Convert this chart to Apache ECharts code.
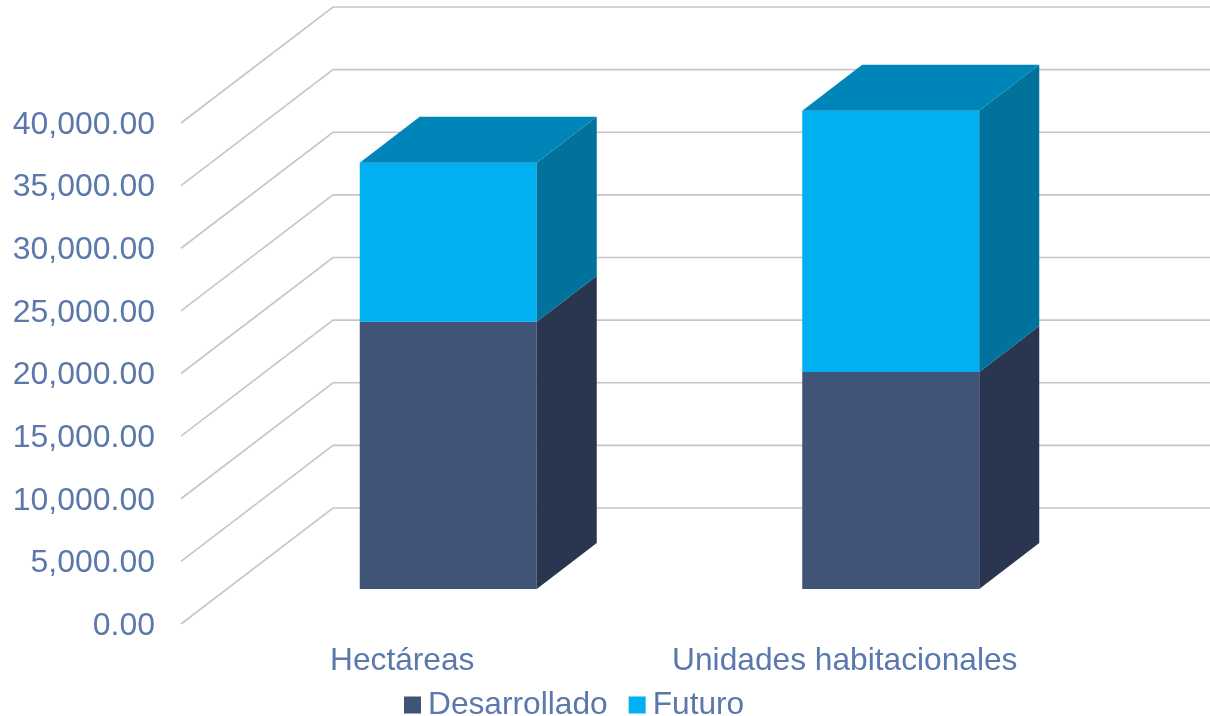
<!DOCTYPE html>
<html>
<head>
<meta charset="utf-8">
<style>html,body{margin:0;padding:0;background:#fff}#c{width:1210px;height:716px}</style>
<script src="https://cdn.jsdelivr.net/npm/echarts@6/dist/echarts.min.js"></script>
</head>
<body>
<div id="c"></div>
<script>
const categories = ['Hectáreas', 'Unidades habitacionales'];
const desarrollado = [21340, 17330];
const futuro = [12700, 20860];
const ticks = [0, 5000, 10000, 15000, 20000, 25000, 30000, 35000, 40000];

const wallDepth = [152, -116];
const barNear = [46, -35];
const barDepth = [60, -46];
const textColor = '#5a78ac';
const gridColor = '#c6c6ca';
const fontFamily = '"Liberation Sans", Arial, sans-serif';

function shift(p, d) { return [p[0] + d[0], p[1] + d[1]]; }
function poly(points, fill) {
  return { type: 'polygon', shape: { points: points }, style: { fill: fill } };
}

function wallItem(params, api) {
  const cs = params.coordSys;
  const y = api.coord([0, api.value(0)])[1];
  const a = [cs.x, y];
  const b = shift(a, wallDepth);
  return {
    type: 'polyline',
    shape: { points: [a, b, [b[0] + cs.width + 10, b[1]]] },
    style: { fill: 'none', stroke: gridColor, lineWidth: 1.6 }
  };
}

function barItem(front, side, top, halfWidthBands, showTop) {
  return function (params, api) {
    const i = api.value(0);
    const lo = api.value(1);
    const hi = api.value(2);
    const half = api.size([1, 0])[0] * halfWidthBands;
    const bl = shift(api.coord([i, lo]), barNear);
    const tl = shift(api.coord([i, hi]), barNear);
    const p1 = [bl[0] - half, bl[1]];
    const p2 = [bl[0] + half, bl[1]];
    const p3 = [tl[0] + half, tl[1]];
    const p4 = [tl[0] - half, tl[1]];
    const children = [
      poly([p1, p2, p3, p4], front),
      poly([p2, shift(p2, barDepth), shift(p3, barDepth), p3], side)
    ];
    if (showTop) {
      children.push(poly([p4, p3, shift(p3, barDepth), shift(p4, barDepth)], top));
    }
    return { type: 'group', children: children };
  };
}

const chart = echarts.init(document.getElementById('c'), null, { renderer: 'canvas' });
chart.setOption({
  animation: false,
  backgroundColor: '#fff',
  textStyle: { fontFamily: fontFamily },
  grid: { left: 181, top: 123, width: 885, height: 501, containLabel: false },
  legend: {
    left: 404,
    top: 689,
    itemWidth: 17,
    itemHeight: 17,
    itemGap: 21,
    padding: 0,
    icon: 'rect',
    data: ['Desarrollado', 'Futuro'],
    textStyle: { color: textColor, fontSize: 31.7, fontFamily: fontFamily, padding: [0, 0, 0, 2] }
  },
  xAxis: {
    type: 'category',
    data: categories,
    axisLine: { show: false },
    axisTick: { show: false },
    splitLine: { show: false },
    axisLabel: { color: textColor, fontSize: 31.7, fontFamily: fontFamily, margin: 21, interval: 0 }
  },
  yAxis: {
    type: 'value',
    min: 0,
    max: 40000,
    interval: 5000,
    axisLine: { show: false },
    axisTick: { show: false },
    splitLine: { show: false },
    axisLabel: {
      margin: 26,
      formatter: function (v) {
        return '{n|' + v.toLocaleString('en-US', { minimumFractionDigits: 2, maximumFractionDigits: 2 }) + '}';
      },
      rich: { n: { color: textColor, fontSize: 32, fontFamily: fontFamily, padding: [4, 0, 0, 0] } }
    }
  },
  series: [
    {
      type: 'custom', name: 'walls', silent: true, z: 1, clip: false,
      data: ticks.map(function (t) { return [t]; }),
      encode: { y: 0 },
      renderItem: wallItem
    },
    {
      type: 'custom', name: 'Desarrollado', z: 2, clip: false,
      itemStyle: { color: '#3f5476' },
      data: categories.map(function (c, i) { return [i, 0, desarrollado[i]]; }),
      encode: { x: 0, y: [1, 2] },
      renderItem: barItem('#3f5476', '#2a3550', '#2f4060', 0.2, false)
    },
    {
      type: 'custom', name: 'Futuro', z: 3, clip: false,
      itemStyle: { color: '#00b0f0' },
      data: categories.map(function (c, i) { return [i, desarrollado[i], desarrollado[i] + futuro[i]]; }),
      encode: { x: 0, y: [1, 2] },
      renderItem: barItem('#00b0f0', '#00729c', '#0085b8', 0.2, true)
    }
  ]
});
</script>
</body>
</html>
